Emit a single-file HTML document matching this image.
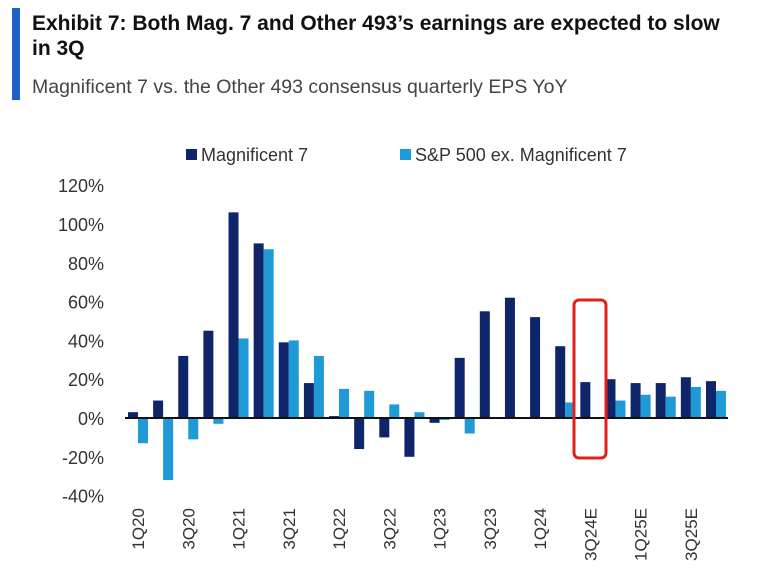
<!DOCTYPE html>
<html><head><meta charset="utf-8"><style>
body{margin:0;width:783px;height:579px;background:#fff;font-family:"Liberation Sans",sans-serif;overflow:hidden;position:relative}
#bar{position:absolute;left:12px;top:8px;width:8px;height:92px;background:#1f5fc8}
#t{position:absolute;left:32px;top:11px;font-family:"Liberation Sans Narrow","Liberation Sans",sans-serif;font-weight:bold;font-size:21px;line-height:25px;color:#111;width:700px}
#s{position:absolute;left:32px;top:76px;font-size:19.5px;color:#444;white-space:nowrap}
</style></head><body>
<div id="bar"></div>
<div id="t">Exhibit 7: Both Mag. 7 and Other 493’s earnings are expected to slow in 3Q</div>
<div id="s">Magnificent 7 vs. the Other 493 consensus quarterly EPS YoY</div>
<svg id="c" width="783" height="579" style="position:absolute;left:0;top:0"></svg>
<script>
const categories=["1Q20","2Q20","3Q20","4Q20","1Q21","2Q21","3Q21","4Q21","1Q22","2Q22","3Q22","4Q22","1Q23","2Q23","3Q23","4Q23","1Q24","2Q24","3Q24E","4Q24E","1Q25E","2Q25E","3Q25E","4Q25E"];
const mag7=[3,9,32,45,106,90,39,18,1,-16,-10,-20,-2.5,31,55,62,52,37,18.5,20,18,18,21,19];
const other493=[-13,-32,-11,-3,41,87,40,32,15,14,7,3,-1,-8,0,0,0,8,0,9,12,11,16,14];
const yTicks=[120,100,80,60,40,20,0,-20,-40];
const seriesNames=["Magnificent 7","S&P 500 ex. Magnificent 7"];
const NS="http://www.w3.org/2000/svg",svg=document.getElementById('c');
const y=v=>418-v*1.94, xc=i=>138+i*25.13;
function mk(t,a,p){const e=document.createElementNS(NS,t);for(const k in a)e.setAttribute(k,a[k]);(p||svg).appendChild(e);return e;}
yTicks.forEach(v=>{const e=mk('text',{x:104,y:y(v)+7,'text-anchor':'end','font-size':18,fill:'#333'});e.textContent=v+'%';

});
categories.forEach((c,i)=>{
const h1=mag7[i],h2=other493[i];
const r1=mk('rect',{x:xc(i)-10,y:Math.min(y(h1),y(0)),width:10,height:Math.abs(y(h1)-y(0)),fill:'#0e2569'});


const r2=mk('rect',{x:xc(i),y:Math.min(y(h2),y(0)),width:10,height:Math.abs(y(h2)-y(0)),fill:'#1f9ad6'});


if(i%2==0){const t=mk('text',{x:0,y:0,'text-anchor':'end','font-size':17,fill:'#333',transform:`translate(${xc(i)+6},508) rotate(-90)`});t.textContent=c;

}
});
const ax=mk('line',{x1:125,x2:728,y1:y(0),y2:y(0),stroke:'#111','stroke-width':2});


const hb=mk('rect',{x:574,y:300,width:32,height:158,rx:5,fill:'none',stroke:'#e0201b','stroke-width':3});


[[186,'#0e2569',0],[400,'#1f9ad6',1]].forEach(([lx,col,k])=>{
const g=mk('g',{});


mk('rect',{x:lx,y:149,width:11,height:11,fill:col},g);
const t=mk('text',{x:lx+15,y:161,'font-size':18,fill:'#333'},g);t.textContent=seriesNames[k];});
</script>
</body></html>
